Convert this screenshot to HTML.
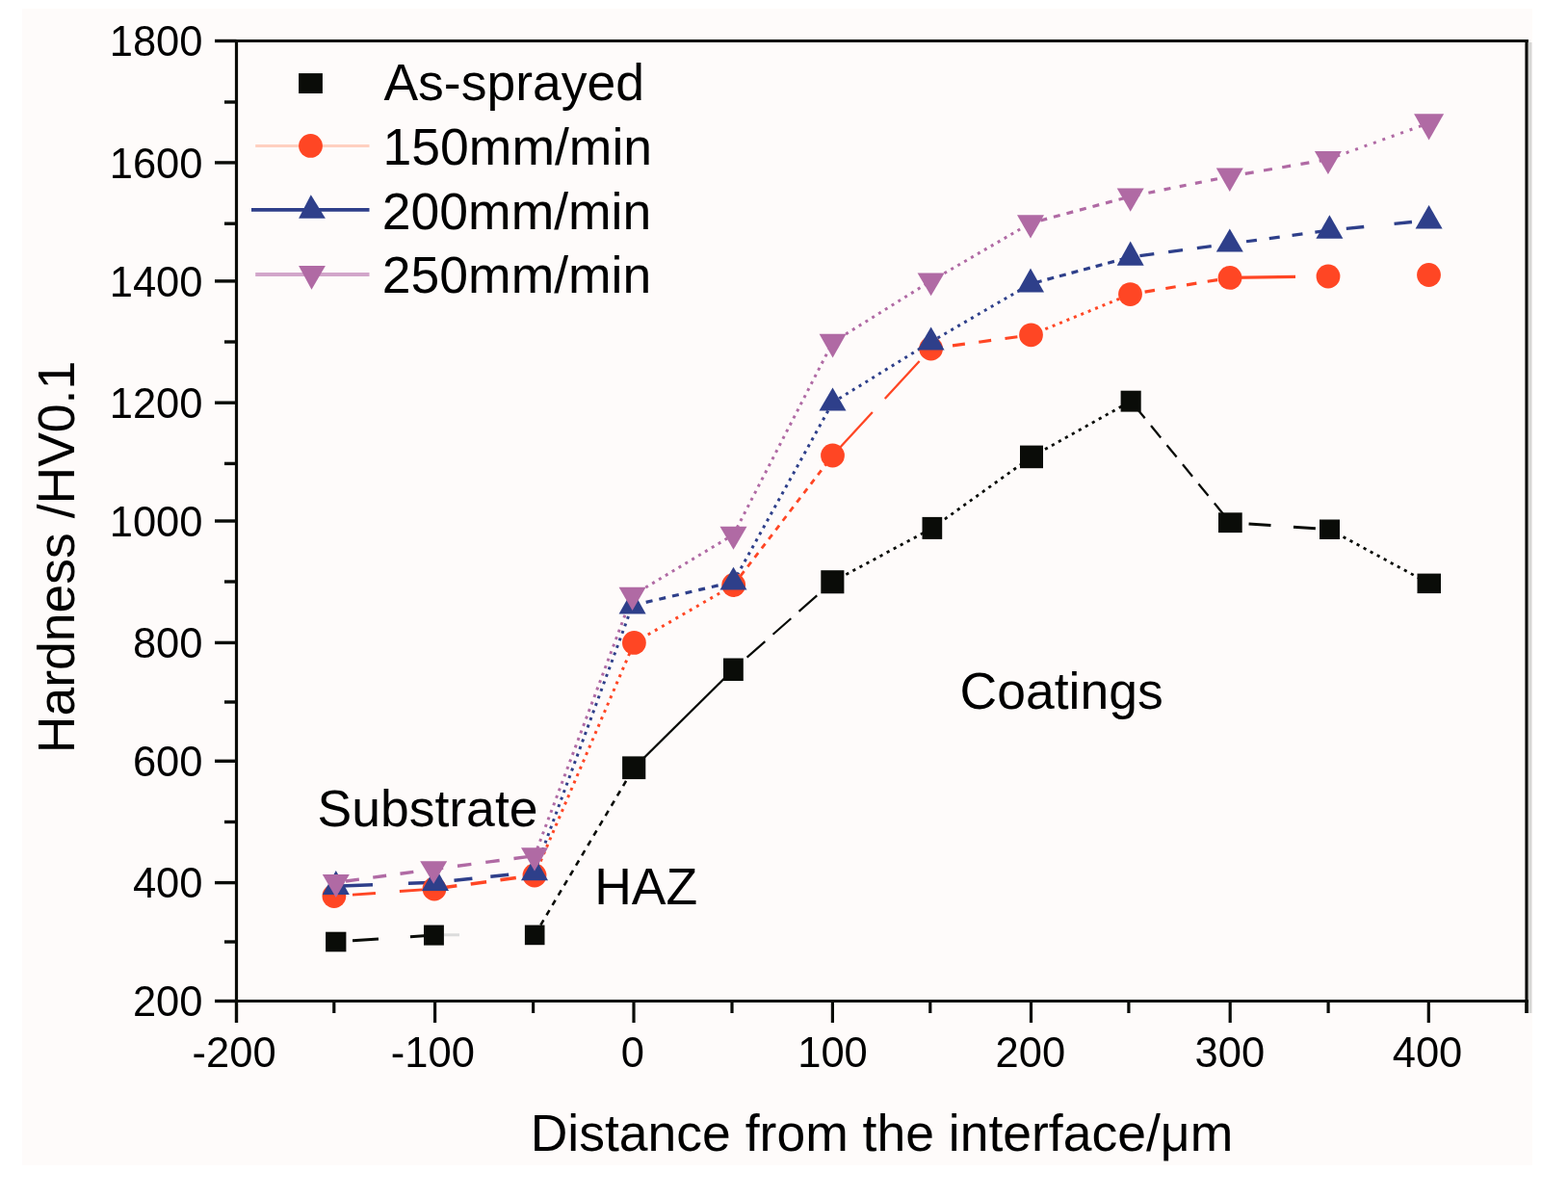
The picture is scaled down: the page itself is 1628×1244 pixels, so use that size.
<!DOCTYPE html><html><head><meta charset="utf-8"><title>Hardness profile</title><style>html,body{margin:0;padding:0;background:#fff;}body{width:1628px;height:1244px;overflow:hidden;}svg{display:block;}text{font-family:'Liberation Sans', Arial, Helvetica, sans-serif;fill:#000;}</style></head><body>
<svg width="1628" height="1244" viewBox="0 0 1628 1244">
<rect x="0" y="0" width="1628" height="1244" fill="#fff"/>
<rect x="23" y="9" width="1568" height="1201" fill="#fefbfa"/>
<rect x="1587" y="44" width="3.5" height="1008" fill="#d8d8d6"/>
<g stroke="#0a0c08" stroke-width="3.2" fill="none">
<line x1="223" y1="42.5" x2="1586.8" y2="42.5"/>
<line x1="223" y1="1039.5" x2="1586.8" y2="1039.5"/>
<line x1="245.5" y1="41" x2="245.5" y2="1062"/>
<line x1="1585.0" y1="41" x2="1585.0" y2="1052"/>
<line x1="223" y1="42.5" x2="245.5" y2="42.5" stroke-width="3.4"/>
<line x1="233" y1="106" x2="245.5" y2="106" stroke-width="3.4"/>
<line x1="223" y1="168.9" x2="245.5" y2="168.9" stroke-width="3.4"/>
<line x1="233" y1="232.2" x2="245.5" y2="232.2" stroke-width="3.4"/>
<line x1="223" y1="291.9" x2="245.5" y2="291.9" stroke-width="3.4"/>
<line x1="233" y1="355" x2="245.5" y2="355" stroke-width="3.4"/>
<line x1="223" y1="418.2" x2="245.5" y2="418.2" stroke-width="3.4"/>
<line x1="233" y1="481.4" x2="245.5" y2="481.4" stroke-width="3.4"/>
<line x1="223" y1="541" x2="245.5" y2="541" stroke-width="3.4"/>
<line x1="233" y1="604" x2="245.5" y2="604" stroke-width="3.4"/>
<line x1="223" y1="667.4" x2="245.5" y2="667.4" stroke-width="3.4"/>
<line x1="233" y1="729" x2="245.5" y2="729" stroke-width="3.4"/>
<line x1="223" y1="790.3" x2="245.5" y2="790.3" stroke-width="3.4"/>
<line x1="233" y1="853.5" x2="245.5" y2="853.5" stroke-width="3.4"/>
<line x1="223" y1="916.6" x2="245.5" y2="916.6" stroke-width="3.4"/>
<line x1="233" y1="978" x2="245.5" y2="978" stroke-width="3.4"/>
<line x1="223" y1="1039.5" x2="245.5" y2="1039.5" stroke-width="3.4"/>
<line x1="245.5" y1="1039.5" x2="245.5" y2="1062" stroke-width="3.2"/>
<line x1="346.8" y1="1039.5" x2="346.8" y2="1052" stroke-width="3.2"/>
<line x1="451.6" y1="1039.5" x2="451.6" y2="1062" stroke-width="3.2"/>
<line x1="553.6" y1="1039.5" x2="553.6" y2="1052" stroke-width="3.2"/>
<line x1="658" y1="1039.5" x2="658" y2="1062" stroke-width="3.2"/>
<line x1="760" y1="1039.5" x2="760" y2="1052" stroke-width="3.2"/>
<line x1="864.4" y1="1039.5" x2="864.4" y2="1062" stroke-width="3.2"/>
<line x1="965.8" y1="1039.5" x2="965.8" y2="1052" stroke-width="3.2"/>
<line x1="1070.5" y1="1039.5" x2="1070.5" y2="1062" stroke-width="3.2"/>
<line x1="1171.9" y1="1039.5" x2="1171.9" y2="1052" stroke-width="3.2"/>
<line x1="1277.2" y1="1039.5" x2="1277.2" y2="1062" stroke-width="3.2"/>
<line x1="1379.1" y1="1039.5" x2="1379.1" y2="1052" stroke-width="3.2"/>
<line x1="1483.3" y1="1039.5" x2="1483.3" y2="1062" stroke-width="3.2"/>
<line x1="1585" y1="1039.5" x2="1585" y2="1052" stroke-width="3.2"/>
</g>
<g font-size="43.5" text-anchor="end">
<text x="210.5" y="58.1">1800</text>
<text x="210.5" y="184.5">1600</text>
<text x="210.5" y="307.5">1400</text>
<text x="210.5" y="433.8">1200</text>
<text x="210.5" y="556.6">1000</text>
<text x="210.5" y="683.0">800</text>
<text x="210.5" y="805.9">600</text>
<text x="210.5" y="932.2">400</text>
<text x="210.5" y="1055.1">200</text>
</g>
<g font-size="43.5" text-anchor="middle">
<text x="243.1" y="1107.5">-200</text>
<text x="449.4" y="1107.5">-100</text>
<text x="656.9" y="1107.5">0</text>
<text x="864.5" y="1107.5">100</text>
<text x="1069.8" y="1107.5">200</text>
<text x="1276.9" y="1107.5">300</text>
<text x="1482" y="1107.5">400</text>
</g>
<line x1="348.8" y1="978.0" x2="450.4" y2="971.1" stroke="#0a0c08" stroke-width="3.0" stroke-dasharray="27 33" stroke-dashoffset="42.71"/>
<line x1="450.4" y1="971.1" x2="555.2" y2="970.9" stroke="#0a0c08" stroke-width="3.0" stroke-dasharray="0 1000"/>
<line x1="555.2" y1="970.9" x2="658.2" y2="797.2" stroke="#0a0c08" stroke-width="2.6" stroke-dasharray="6 6"/>
<line x1="658.2" y1="797.2" x2="761.4" y2="695.2" stroke="#0a0c08" stroke-width="2.3" stroke-dasharray="1000 0"/>
<line x1="761.4" y1="695.2" x2="864.3" y2="604.2" stroke="#0a0c08" stroke-width="2.2" stroke-dasharray="25 11" stroke-dashoffset="17.05"/>
<line x1="864.3" y1="604.2" x2="967.9" y2="548.4" stroke="#0a0c08" stroke-width="2.8" stroke-dasharray="3.2 4.8"/>
<line x1="967.9" y1="548.4" x2="1071.0" y2="474.4" stroke="#0a0c08" stroke-width="2.8" stroke-dasharray="3.2 4.8"/>
<line x1="1071.0" y1="474.4" x2="1174.2" y2="416.6" stroke="#0a0c08" stroke-width="2.8" stroke-dasharray="3.2 4.8"/>
<line x1="1174.2" y1="416.6" x2="1277.3" y2="542.7" stroke="#0a0c08" stroke-width="2.3" stroke-dasharray="16 10" stroke-dashoffset="19.09"/>
<line x1="1277.3" y1="542.7" x2="1380.5" y2="549.8" stroke="#0a0c08" stroke-width="3.0" stroke-dasharray="23 23.5" stroke-dashoffset="27.21"/>
<line x1="1380.5" y1="549.8" x2="1483.8" y2="605.9" stroke="#0a0c08" stroke-width="2.8" stroke-dasharray="3.2 4.8"/>
<line x1="346.9" y1="930.5" x2="451.0" y2="923.0" stroke="#ff4624" stroke-width="3.0" stroke-dasharray="24 25" stroke-dashoffset="29.85"/>
<line x1="451.0" y1="923.0" x2="555.0" y2="909.0" stroke="#ff4624" stroke-width="3.5" stroke-dasharray="16.5 14.5" stroke-dashoffset="23.94"/>
<line x1="555.0" y1="909.0" x2="658.4" y2="667.4" stroke="#ff4624" stroke-width="3.0" stroke-dasharray="3 5"/>
<line x1="658.4" y1="667.4" x2="761.7" y2="607.5" stroke="#ff4624" stroke-width="3.0" stroke-dasharray="3 5.3"/>
<line x1="761.7" y1="607.5" x2="864.5" y2="473.0" stroke="#ff4624" stroke-width="2.8" stroke-dasharray="6 6"/>
<line x1="864.5" y1="473.0" x2="966.6" y2="362.0" stroke="#ff4624" stroke-width="2.3" stroke-dasharray="53 19" stroke-dashoffset="63.88"/>
<line x1="966.6" y1="362.0" x2="1070.5" y2="347.8" stroke="#ff4624" stroke-width="3.2" stroke-dasharray="13 14.5" stroke-dashoffset="4.89"/>
<line x1="1070.5" y1="347.8" x2="1173.5" y2="305.6" stroke="#ff4624" stroke-width="3.0" stroke-dasharray="3 5"/>
<line x1="1173.5" y1="305.6" x2="1277.0" y2="288.4" stroke="#ff4624" stroke-width="3.2" stroke-dasharray="10.5 11.5" stroke-dashoffset="6.69"/>
<line x1="1277.0" y1="288.4" x2="1379.0" y2="287.0" stroke="#ff4624" stroke-width="3.2" stroke-dasharray="68 1000" stroke-dashoffset="0.00"/>
<line x1="1379.0" y1="287.0" x2="1483.5" y2="285.5" stroke="#ff4624" stroke-width="3.0" stroke-dasharray="0 1000"/>
<line x1="348.8" y1="920.2" x2="452.0" y2="916.2" stroke="#2e3f8a" stroke-width="3.4" stroke-dasharray="33 37" stroke-dashoffset="64.80"/>
<line x1="452.0" y1="916.2" x2="555.0" y2="905.6" stroke="#2e3f8a" stroke-width="3.5" stroke-dasharray="19 19" stroke-dashoffset="18.40"/>
<line x1="555.0" y1="905.6" x2="656.6" y2="628.7" stroke="#2e3f8a" stroke-width="3.0" stroke-dasharray="3 5"/>
<line x1="656.6" y1="628.7" x2="761.5" y2="604.2" stroke="#2e3f8a" stroke-width="3.2" stroke-dasharray="7 7" stroke-dashoffset="13.52"/>
<line x1="761.5" y1="604.2" x2="864.5" y2="418.0" stroke="#2e3f8a" stroke-width="3.0" stroke-dasharray="3 5"/>
<line x1="864.5" y1="418.0" x2="966.6" y2="355.0" stroke="#2e3f8a" stroke-width="3.0" stroke-dasharray="3 5"/>
<line x1="966.6" y1="355.0" x2="1070.0" y2="294.8" stroke="#2e3f8a" stroke-width="3.0" stroke-dasharray="3 5"/>
<line x1="1070.0" y1="294.8" x2="1173.7" y2="266.9" stroke="#2e3f8a" stroke-width="3.2" stroke-dasharray="7 6" stroke-dashoffset="7.98"/>
<line x1="1173.7" y1="266.9" x2="1276.8" y2="253.1" stroke="#2e3f8a" stroke-width="3.2" stroke-dasharray="15 15" stroke-dashoffset="20.21"/>
<line x1="1276.8" y1="253.1" x2="1380.4" y2="239.1" stroke="#2e3f8a" stroke-width="3.2" stroke-dasharray="11 13" stroke-dashoffset="6.64"/>
<line x1="1380.4" y1="239.1" x2="1483.6" y2="228.8" stroke="#2e3f8a" stroke-width="3.4" stroke-dasharray="18.5 31.5" stroke-dashoffset="32.51"/>
<line x1="348.8" y1="916.4" x2="450.2" y2="902.5" stroke="#b06aa4" stroke-width="3.4" stroke-dasharray="14 14.5" stroke-dashoffset="18.20"/>
<line x1="450.2" y1="902.5" x2="555.0" y2="888.7" stroke="#b06aa4" stroke-width="3.4" stroke-dasharray="14.5 15" stroke-dashoffset="4.49"/>
<line x1="555.0" y1="888.7" x2="656.6" y2="618.3" stroke="#b06aa4" stroke-width="3.0" stroke-dasharray="3 5"/>
<line x1="656.6" y1="618.3" x2="761.5" y2="555.2" stroke="#b06aa4" stroke-width="3.0" stroke-dasharray="3 5"/>
<line x1="761.5" y1="555.2" x2="864.6" y2="355.4" stroke="#b06aa4" stroke-width="3.0" stroke-dasharray="3 5"/>
<line x1="864.6" y1="355.4" x2="966.6" y2="291.8" stroke="#b06aa4" stroke-width="3.0" stroke-dasharray="3 5"/>
<line x1="966.6" y1="291.8" x2="1070.0" y2="231.7" stroke="#b06aa4" stroke-width="3.0" stroke-dasharray="3 5"/>
<line x1="1070.0" y1="231.7" x2="1173.7" y2="204.0" stroke="#b06aa4" stroke-width="3.2" stroke-dasharray="7 7" stroke-dashoffset="3.26"/>
<line x1="1173.7" y1="204.0" x2="1276.8" y2="183.1" stroke="#b06aa4" stroke-width="3.2" stroke-dasharray="7 9.5" stroke-dashoffset="13.92"/>
<line x1="1276.8" y1="183.1" x2="1378.9" y2="165.5" stroke="#b06aa4" stroke-width="3.2" stroke-dasharray="9 10.5" stroke-dashoffset="3.26"/>
<line x1="1378.9" y1="165.5" x2="1483.6" y2="127.8" stroke="#b06aa4" stroke-width="3.0" stroke-dasharray="3 7"/>
<line x1="461" y1="970.8" x2="477" y2="970.8" stroke="#dcdcdc" stroke-width="3"/>
<rect x="338.1" y="967.7" width="21.3" height="20.6" fill="#0a0c08"/>
<rect x="440.0" y="960.6" width="20.9" height="21.0" fill="#0a0c08"/>
<rect x="544.9" y="960.6" width="20.6" height="20.6" fill="#0a0c08"/>
<rect x="646.1" y="785.4" width="24.2" height="23.7" fill="#0a0c08"/>
<rect x="751.0" y="683.5" width="20.8" height="23.5" fill="#0a0c08"/>
<rect x="852.3" y="592.2" width="24.1" height="24.1" fill="#0a0c08"/>
<rect x="957.5" y="536.9" width="20.7" height="23.0" fill="#0a0c08"/>
<rect x="1059.0" y="462.6" width="24.0" height="23.6" fill="#0a0c08"/>
<rect x="1163.6" y="405.7" width="21.1" height="21.9" fill="#0a0c08"/>
<rect x="1265.0" y="532.3" width="24.7" height="20.8" fill="#0a0c08"/>
<rect x="1370.0" y="539.5" width="21.0" height="20.5" fill="#0a0c08"/>
<rect x="1471.5" y="595.6" width="24.5" height="20.5" fill="#0a0c08"/>
<circle cx="346.9" cy="930.5" r="12.4" fill="#ff4624"/>
<circle cx="451.0" cy="923.0" r="12.4" fill="#ff4624"/>
<circle cx="555.0" cy="909.0" r="12.4" fill="#ff4624"/>
<circle cx="658.4" cy="667.4" r="12.4" fill="#ff4624"/>
<circle cx="761.7" cy="607.5" r="12.4" fill="#ff4624"/>
<circle cx="864.5" cy="473.0" r="12.4" fill="#ff4624"/>
<circle cx="966.6" cy="362.0" r="12.4" fill="#ff4624"/>
<circle cx="1070.5" cy="347.8" r="12.4" fill="#ff4624"/>
<circle cx="1173.5" cy="305.6" r="12.4" fill="#ff4624"/>
<circle cx="1277.0" cy="288.4" r="12.4" fill="#ff4624"/>
<circle cx="1379.0" cy="287.0" r="12.4" fill="#ff4624"/>
<circle cx="1483.5" cy="285.5" r="12.4" fill="#ff4624"/>
<polygon points="348.8,904.0 362.8,929.0 334.8,929.0" fill="#2e3f8a"/>
<polygon points="452.0,900.0 466.0,925.0 438.0,925.0" fill="#2e3f8a"/>
<polygon points="555.0,889.5 569.0,914.3 541.0,914.3" fill="#2e3f8a"/>
<polygon points="656.6,612.5 670.6,637.4 642.6,637.4" fill="#2e3f8a"/>
<polygon points="761.5,588.7 775.5,612.6 747.5,612.6" fill="#2e3f8a"/>
<polygon points="864.5,402.5 878.5,426.4 850.5,426.4" fill="#2e3f8a"/>
<polygon points="966.6,339.5 980.6,363.4 952.6,363.4" fill="#2e3f8a"/>
<polygon points="1070.0,278.5 1084.0,303.5 1056.0,303.5" fill="#2e3f8a"/>
<polygon points="1173.7,250.5 1187.7,275.7 1159.7,275.7" fill="#2e3f8a"/>
<polygon points="1276.8,237.6 1290.8,261.5 1262.8,261.5" fill="#2e3f8a"/>
<polygon points="1380.4,223.2 1394.4,247.7 1366.4,247.7" fill="#2e3f8a"/>
<polygon points="1483.6,212.9 1497.6,237.4 1469.6,237.4" fill="#2e3f8a"/>
<polygon points="334.8,908.0 362.8,908.0 348.8,932.0" fill="#b06aa4"/>
<polygon points="436.2,894.3 464.2,894.3 450.2,917.8" fill="#b06aa4"/>
<polygon points="541.0,880.2 569.0,880.2 555.0,904.5" fill="#b06aa4"/>
<polygon points="642.6,609.8 670.6,609.8 656.6,634.0" fill="#b06aa4"/>
<polygon points="747.5,546.8 775.5,546.8 761.5,570.8" fill="#b06aa4"/>
<polygon points="850.6,346.7 878.6,346.7 864.6,371.5" fill="#b06aa4"/>
<polygon points="952.6,283.4 980.6,283.4 966.6,307.3" fill="#b06aa4"/>
<polygon points="1056.0,223.2 1084.0,223.2 1070.0,247.5" fill="#b06aa4"/>
<polygon points="1159.7,195.5 1187.7,195.5 1173.7,219.8" fill="#b06aa4"/>
<polygon points="1262.8,174.6 1290.8,174.6 1276.8,199.0" fill="#b06aa4"/>
<polygon points="1364.9,157.1 1392.9,157.1 1378.9,181.0" fill="#b06aa4"/>
<polygon points="1468.1,118.3 1499.1,118.3 1483.6,145.5" fill="#b06aa4"/>
<rect x="310.1" y="76.1" width="24.8" height="20.9" fill="#0a0c08"/>
<line x1="265.2" y1="151.4" x2="383.5" y2="151.4" stroke="#ffd0c0" stroke-width="3"/>
<circle cx="322.5" cy="151.4" r="12.4" fill="#ff4624"/>
<line x1="261" y1="217.9" x2="383.5" y2="217.9" stroke="#2e3f8a" stroke-width="3.8"/>
<polygon points="322.8,202.2 337.9,226.8 310.1,226.8" fill="#2e3f8a"/>
<line x1="265.2" y1="285" x2="383.5" y2="285" stroke="#d2a6ca" stroke-width="3.8"/>
<polygon points="310.1,276.1 337.9,276.1 323.5,300.7" fill="#b06aa4"/>
<g font-size="53.5">
<text x="398.4" y="104">As-sprayed</text>
<text x="397.6" y="170.8">150mm/min</text>
<text x="396.8" y="238">200mm/min</text>
<text x="396.8" y="303.7">250mm/min</text>
<text x="329.5" y="858.1">Substrate</text>
<text x="617.2" y="939.2">HAZ</text>
<text x="996.5" y="735.7">Coatings</text>
<text x="550.7" y="1195.4">Distance from the interface/μm</text>
<text transform="translate(76.5,782.2) rotate(-90)" x="0" y="0">Hardness /HV0.1</text>
</g>
</svg></body></html>
